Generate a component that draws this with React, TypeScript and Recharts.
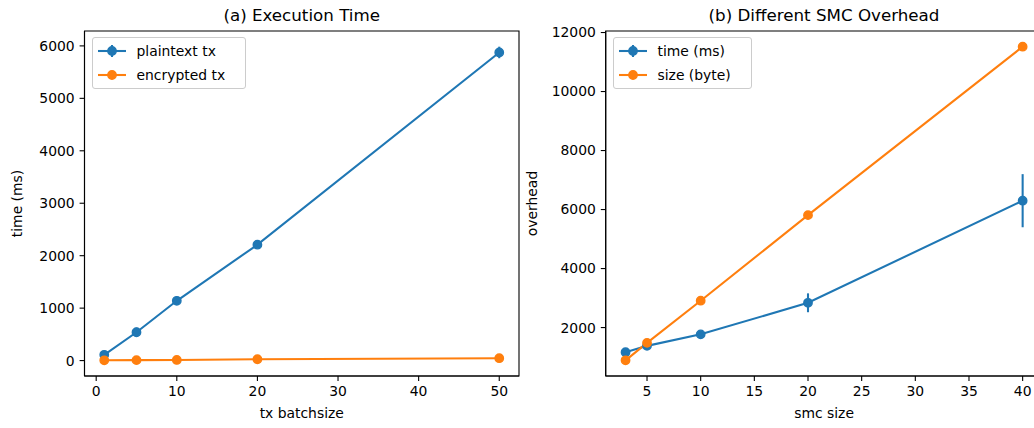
import React from 'react';
import { LineChart, Line, XAxis, YAxis, ErrorBar, ReferenceArea, Legend, Label } from 'recharts';

// (a) execution time vs tx batch size
const batchSizes = [1, 5, 10, 20, 50];
const plaintextTime = [110, 540, 1140, 2210, 5875];
const plaintextErr = [30, 90, 40, 40, 110];
const encryptedTime = [5, 8, 12, 25, 45];

// (b) overhead vs smc size
const smcSizes = [3, 5, 10, 20, 40];
const smcTime = [1165, 1380, 1770, 2840, 6300];
const smcTimeErr = [50, 50, 60, 320, 900];
const smcBytes = [890, 1480, 2910, 5810, 11520];

const batchTicks = [0, 10, 20, 30, 40, 50];
const timeTicks = [0, 1000, 2000, 3000, 4000, 5000, 6000];
const smcTicks = [5, 10, 15, 20, 25, 30, 35, 40];
const overheadTicks = [2000, 4000, 6000, 8000, 10000, 12000];

const BLUE = '#1f77b4';
const ORANGE = '#ff7f0e';
const FONT = '"DejaVu Sans", sans-serif';
const FS = 13.9;

// matplotlib-style 5% autoscale margins
const padded = (lo: number, hi: number): [number, number] => {
  const r = hi - lo;
  return [lo - 0.05 * r, hi + 0.05 * r];
};

const batchData = batchSizes.map((x, i) => ({
  x,
  plaintext: plaintextTime[i],
  plaintextErr: plaintextErr[i],
  encrypted: encryptedTime[i],
}));

const smcData = smcSizes.map((x, i) => ({
  x,
  time: smcTime[i],
  timeErr: smcTimeErr[i],
  bytes: smcBytes[i],
}));

const batchX = padded(Math.min(...batchSizes), Math.max(...batchSizes));
const batchY = padded(
  Math.min(...encryptedTime, ...plaintextTime.map((v, i) => v - plaintextErr[i])),
  Math.max(...encryptedTime, ...plaintextTime.map((v, i) => v + plaintextErr[i]))
);
const smcX = padded(Math.min(...smcSizes), Math.max(...smcSizes));
const smcY = padded(
  Math.min(...smcBytes, ...smcTime.map((v, i) => v - smcTimeErr[i])),
  Math.max(...smcBytes, ...smcTime.map((v, i) => v + smcTimeErr[i]))
);

const tickStyle = { fontSize: FS, fill: '#000', fontFamily: FONT };
const lineStyle = { stroke: '#000', strokeWidth: 1.1 };

// legend drawn like matplotlib's; order follows the series order given
const renderLegend = (order: string[], withErr: string[]) => (props: any) => {
  const payload = [...(props.payload || [])].sort(
    (a: any, b: any) => order.indexOf(a.value) - order.indexOf(b.value)
  );
  return (
    <div
      style={{
        border: '1px solid #cccccc',
        borderRadius: 3,
        background: 'rgba(255,255,255,0.8)',
        padding: '1px 20px 1px 5px',
        fontFamily: FONT,
        fontSize: FS,
        color: '#000',
      }}
    >
      {payload.map((entry: any) => (
        <div key={entry.value} style={{ display: 'flex', alignItems: 'center', height: 24 }}>
          <svg width={28} height={24} style={{ marginRight: 11 }}>
            <line x1={0} y1={12} x2={28} y2={12} stroke={entry.color} strokeWidth={2.08} />
            {withErr.includes(entry.value) && (
              <line x1={14} y1={6} x2={14} y2={18} stroke={entry.color} strokeWidth={2.08} />
            )}
            <circle cx={14} cy={12} r={4.2} fill={entry.color} stroke={entry.color} strokeWidth={1.39} />
          </svg>
          <span style={{ whiteSpace: 'nowrap' }}>{entry.value}</span>
        </div>
      ))}
    </div>
  );
};

const dotFor = (c: string) => ({ r: 4.2, fill: c, stroke: c, strokeWidth: 1.39 });

export default function App() {
  return (
    <div
      style={{
        position: 'absolute',
        left: 0,
        top: 0,
        width: 1034,
        height: 428,
        background: '#fff',
        overflow: 'hidden',
      }}
    >
      <div style={{ position: 'absolute', left: 0, top: 0 }}>
        <LineChart width={530} height={428} data={batchData} margin={{ top: 31, right: 11, bottom: 8, left: 0 }}>
          <XAxis
            type="number"
            dataKey="x"
            domain={batchX}
            ticks={batchTicks}
            interval={0}
            height={44}
            tick={tickStyle}
            tickSize={4.9}
            tickMargin={4.9}
            axisLine={lineStyle}
            tickLine={lineStyle}
          >
            <Label value="tx batchsize" position="insideBottom" offset={2} fill="#000" fontSize={FS} fontFamily={FONT} />
          </XAxis>
          <YAxis
            type="number"
            domain={batchY}
            ticks={timeTicks}
            interval={0}
            width={84.5}
            tick={tickStyle}
            tickSize={4.9}
            tickMargin={4.9}
            axisLine={lineStyle}
            tickLine={lineStyle}
          >
            <Label
              value="time (ms)"
              angle={-90}
              position="insideLeft"
              offset={17.5}
              fill="#000"
              fontSize={FS}
              fontFamily={FONT}
              style={{ textAnchor: 'middle' }}
            />
          </YAxis>
          <ReferenceArea
            x1={batchX[0]}
            x2={batchX[1]}
            y1={batchY[0]}
            y2={batchY[1]}
            fill="none"
            stroke="#000"
            strokeWidth={1.1}
            ifOverflow="visible"
          />
          <Line
            name="plaintext tx"
            dataKey="plaintext"
            stroke={BLUE}
            strokeWidth={2.08}
            dot={dotFor(BLUE)}
            activeDot={false}
            isAnimationActive={false}
          >
            <ErrorBar dataKey="plaintextErr" direction="y" width={0} stroke={BLUE} strokeWidth={2.08} isAnimationActive={false} />
          </Line>
          <Line
            name="encrypted tx"
            dataKey="encrypted"
            stroke={ORANGE}
            strokeWidth={2.08}
            dot={dotFor(ORANGE)}
            activeDot={false}
            isAnimationActive={false}
          />
          <Legend
            layout="vertical"
            align="center"
            verticalAlign="middle"
            content={renderLegend(['plaintext tx', 'encrypted tx'], ['plaintext tx'])}
            wrapperStyle={{ left: 91.5, top: 37, width: 'auto', height: 'auto' }}
          />
        </LineChart>
      </div>

      <div style={{ position: 'absolute', left: 520, top: 0 }}>
        <LineChart width={540} height={428} data={smcData} margin={{ top: 31, right: 17.5, bottom: 8, left: 0 }}>
          <XAxis
            type="number"
            dataKey="x"
            domain={smcX}
            ticks={smcTicks}
            interval={0}
            height={44}
            tick={tickStyle}
            tickSize={4.9}
            tickMargin={4.9}
            axisLine={lineStyle}
            tickLine={lineStyle}
          >
            <Label value="smc size" position="insideBottom" offset={2} fill="#000" fontSize={FS} fontFamily={FONT} />
          </XAxis>
          <YAxis
            type="number"
            domain={smcY}
            ticks={overheadTicks}
            interval={0}
            width={85.7}
            tick={tickStyle}
            tickSize={4.9}
            tickMargin={4.9}
            axisLine={lineStyle}
            tickLine={lineStyle}
          >
            <Label
              value="overhead"
              angle={-90}
              position="insideLeft"
              offset={11.6}
              fill="#000"
              fontSize={FS}
              fontFamily={FONT}
              style={{ textAnchor: 'middle' }}
            />
          </YAxis>
          <ReferenceArea
            x1={smcX[0]}
            x2={smcX[1]}
            y1={smcY[0]}
            y2={smcY[1]}
            fill="none"
            stroke="#000"
            strokeWidth={1.1}
            ifOverflow="visible"
          />
          <Line
            name="time (ms)"
            dataKey="time"
            stroke={BLUE}
            strokeWidth={2.08}
            dot={dotFor(BLUE)}
            activeDot={false}
            isAnimationActive={false}
          >
            <ErrorBar dataKey="timeErr" direction="y" width={0} stroke={BLUE} strokeWidth={2.08} isAnimationActive={false} />
          </Line>
          <Line
            name="size (byte)"
            dataKey="bytes"
            stroke={ORANGE}
            strokeWidth={2.08}
            dot={dotFor(ORANGE)}
            activeDot={false}
            isAnimationActive={false}
          />
          <Legend
            layout="vertical"
            align="center"
            verticalAlign="middle"
            content={renderLegend(['time (ms)', 'size (byte)'], ['time (ms)'])}
            wrapperStyle={{ left: 92.5, top: 37, width: 'auto', height: 'auto' }}
          />
        </LineChart>
      </div>

      <svg width={1034} height={428} style={{ position: 'absolute', left: 0, top: 0, pointerEvents: 'none' }}>
        <text x={301.7} y={21} textAnchor="middle" fontFamily={FONT} fontSize={16.7} fill="#000">
          (a) Execution Time
        </text>
        <text x={824} y={21} textAnchor="middle" fontFamily={FONT} fontSize={16.7} fill="#000">
          (b) Different SMC Overhead
        </text>
      </svg>
    </div>
  );
}
